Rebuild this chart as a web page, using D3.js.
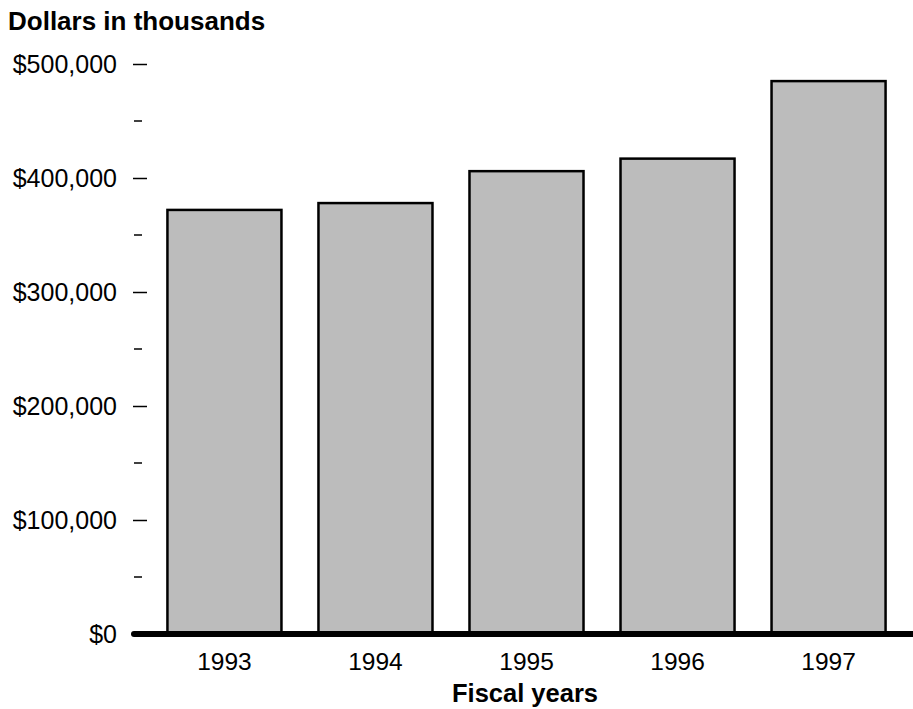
<!DOCTYPE html>
<html>
<head>
<meta charset="utf-8">
<script src="https://cdn.jsdelivr.net/npm/d3@7"></script>
<style>
  body { margin: 0; background: #fff; }
  text { font-family: "Liberation Sans", Arial, sans-serif; fill: #000; }
</style>
</head>
<body>
<div id="chart"></div>
<script>
const years = ["1993", "1994", "1995", "1996", "1997"];
const amounts = [372000, 378000, 406000, 417000, 485000];
const majorTicks = [0, 100000, 200000, 300000, 400000, 500000];
const minorTicks = [50000, 150000, 250000, 350000, 450000];

const width = 913;
const height = 709;
const margin = {top: 64, right: 1, bottom: 75, left: 141};

const svg = d3.select("#chart")
    .append("svg")
    .attr("width", width)
    .attr("height", height);

const xScale = d3.scaleBand()
    .domain(years)
    .range([margin.left, width - margin.right])
    .paddingInner(0.245)
    .paddingOuter(0.175);

const yScale = d3.scaleLinear()
    .domain([0, 500000])
    .range([height - margin.bottom, margin.top]);

// bars
svg.selectAll("rect.bar")
    .data(years)
    .enter()
    .append("rect")
    .attr("class", "bar")
    .attr("x", d => xScale(d))
    .attr("y", (d, i) => yScale(amounts[i]))
    .attr("width", xScale.bandwidth())
    .attr("height", (d, i) => yScale(0) - yScale(amounts[i]))
    .attr("fill", "#bcbcbc")
    .attr("stroke", "#000")
    .attr("stroke-width", 2.5);

// y axis ticks, no axis line
const yAxis = d3.axisLeft(yScale)
    .tickValues(majorTicks)
    .tickSize(14)
    .tickPadding(16)
    .tickFormat(d => "$" + d3.format(",")(d));

const yg = svg.append("g")
    .attr("transform", `translate(147, 0)`)
    .call(yAxis);
yg.select(".domain").remove();
yg.selectAll(".tick line").attr("stroke-width", 1.5);
yg.selectAll(".tick").filter(d => d === 0).select("line").remove();
yg.selectAll("text")
    .attr("font-size", 25)
    .attr("font-family", "'Liberation Sans', Arial, sans-serif");

svg.selectAll("line.minor")
    .data(minorTicks)
    .enter()
    .append("line")
    .attr("class", "minor")
    .attr("x1", 134)
    .attr("x2", 142)
    .attr("y1", d => yScale(d))
    .attr("y2", d => yScale(d))
    .attr("stroke", "#000")
    .attr("stroke-width", 1.5);

// thick baseline
svg.append("line")
    .attr("x1", 134)
    .attr("x2", width + 5)
    .attr("y1", yScale(0))
    .attr("y2", yScale(0))
    .attr("stroke", "#000")
    .attr("stroke-width", 6)
    .attr("stroke-linecap", "round");

// x labels
const xAxis = d3.axisBottom(xScale).tickSize(0).tickPadding(19);
const xg = svg.append("g")
    .attr("transform", `translate(0, ${yScale(0)})`)
    .call(xAxis);
xg.select(".domain").remove();
xg.selectAll("text")
    .attr("font-size", 24.5)
    .attr("font-family", "'Liberation Sans', Arial, sans-serif");

// titles
svg.append("text")
    .attr("x", 8)
    .attr("y", 30)
    .attr("font-size", 26)
    .attr("font-weight", "bold")
    .text("Dollars in thousands");

svg.append("text")
    .attr("x", 525)
    .attr("y", 702)
    .attr("text-anchor", "middle")
    .attr("font-size", 25.5)
    .attr("font-weight", "bold")
    .text("Fiscal years");
</script>
</body>
</html>
